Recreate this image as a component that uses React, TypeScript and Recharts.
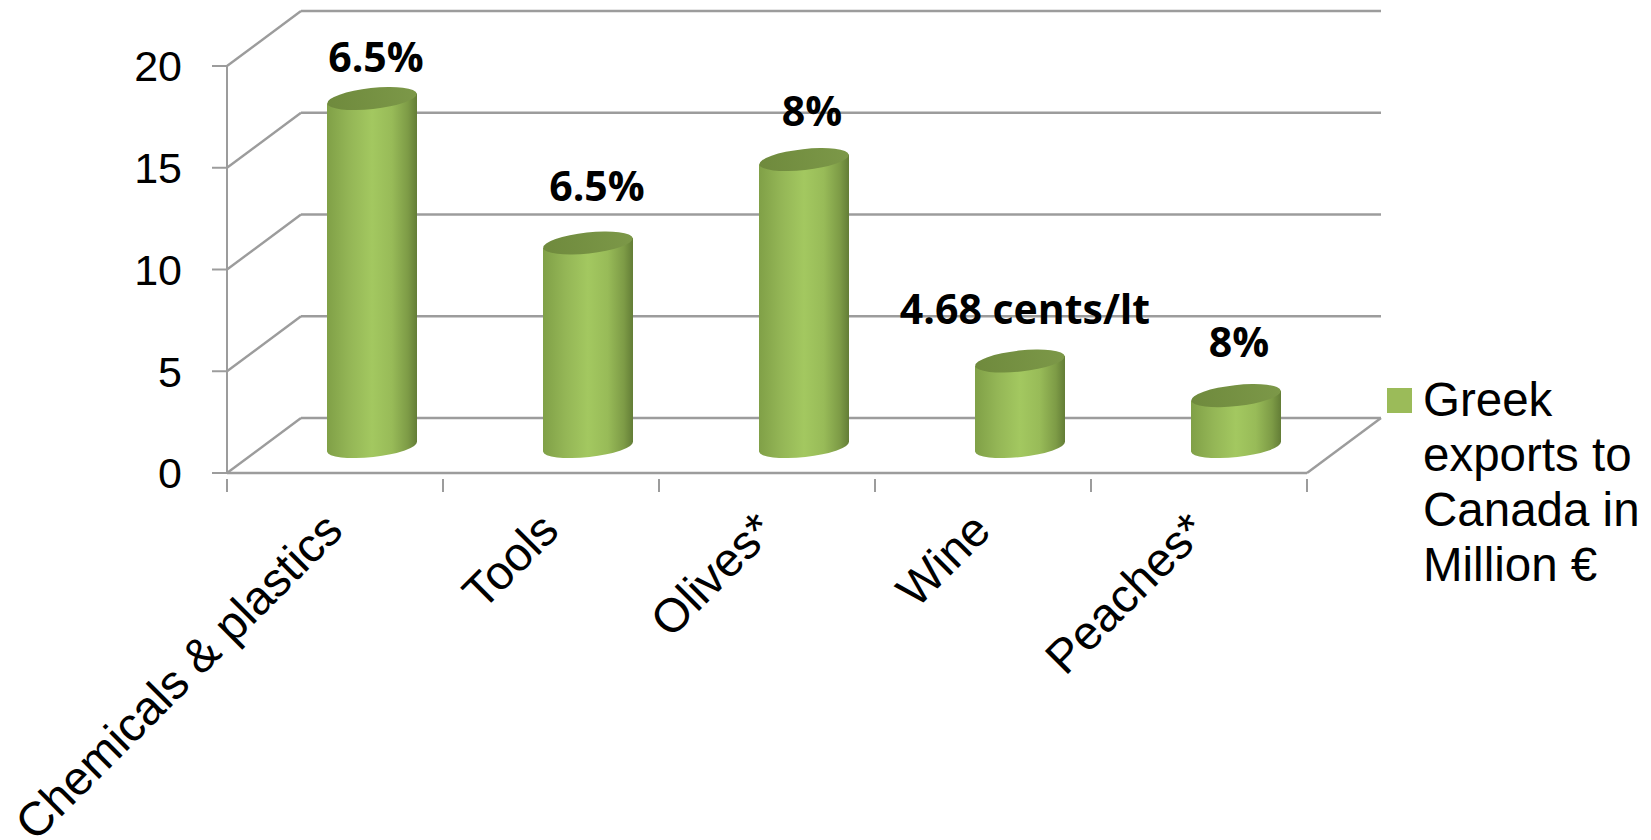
import { BarChart, Bar, XAxis, YAxis, CartesianGrid, Legend, LabelList } from 'recharts';

const categories = ['Chemicals & plastics', 'Tools', 'Olives*', 'Wine', 'Peaches*'];
const exportValues = [17.1, 10, 14.1, 4.2, 2.5];
const dutyLabels = ['6.5%', '6.5%', '8%', '4.68 cents/lt', '8%'];
const yTicks = [0, 5, 10, 15, 20];

const SERIES_NAME = 'Greek exports to Canada in Million €';
const GREEN = '#9bbb59';
const GRID = '#9c9c9c';
const FONT = '"Liberation Sans", Arial, sans-serif';

const WIDTH = 1651;
const HEIGHT = 840;
const PLOT_LEFT = 227;
const PLOT_RIGHT = 1307;
const PLOT_TOP = 66;
const PLOT_BOTTOM = 473;
const LEGEND_WIDTH = 264;
const BAND = (PLOT_RIGHT - PLOT_LEFT) / categories.length;

// fake 3d: the back wall sits up and to the right of the axes
const DEPTH_X = 74;
const DEPTH_Y = -55;

// the labels were hand placed in the original, so they do not sit evenly
const labelNudge = [
  { dx: 4, dy: -26 },
  { dx: 9, dy: -41 },
  { dx: 8, dy: -33 },
  { dx: 5, dy: -36 },
  { dx: 3, dy: -38 },
];

const data = categories.map((name, i) => ({
  name,
  value: exportValues[i],
  duty: dutyLabels[i],
}));

const GridLine = (props: any) => {
  const { x1, y1, x2 } = props;
  const onFloor = y1 >= PLOT_BOTTOM - 1;
  return (
    <g key={props.key} stroke={GRID} strokeWidth={2.4} fill="none">
      <line x1={x1} y1={y1} x2={x1 + DEPTH_X} y2={y1 + DEPTH_Y} />
      <line x1={x1 + DEPTH_X} y1={y1 + DEPTH_Y} x2={x2 + DEPTH_X} y2={y1 + DEPTH_Y} />
      {onFloor && <line x1={x2} y1={y1} x2={x2 + DEPTH_X} y2={y1 + DEPTH_Y} />}
    </g>
  );
};

const Cylinder = (props: any) => {
  const { x, y, width, height } = props;
  const left = x + DEPTH_X / 2;
  const right = left + width;
  const cx = left + width / 2;
  const top = y + DEPTH_Y / 2 + 1;
  const base = y + height + DEPTH_Y / 2 + 1;
  const rx = width / 2;
  const ry = 10.5;
  const tilt = -6.3;
  const lift = 5;
  const body = `M${left} ${top + lift} L${right} ${top - lift} L${right} ${base - lift}
    A${rx} ${ry} ${tilt} 0 1 ${left} ${base + lift} Z`;
  return (
    <g>
      <path d={body} fill="url(#cylinderBody)" />
      <ellipse
        cx={cx}
        cy={top}
        rx={rx}
        ry={ry}
        fill="url(#cylinderTop)"
        transform={`rotate(${tilt} ${cx} ${top})`}
      />
    </g>
  );
};

const DutyLabel = (props: any) => {
  const { x, y, width, value, index } = props;
  const nudge = labelNudge[index];
  return (
    <text
      x={x + DEPTH_X / 2 + width / 2 + nudge.dx}
      y={y + DEPTH_Y / 2 + nudge.dy}
      textAnchor="middle"
      fontFamily='"Open Sans", sans-serif'
      fontWeight={700}
      fontSize={41}
      fill="#000"
    >
      {value}
    </text>
  );
};

const CategoryTick = (props: any) => {
  const { x, y, payload, index } = props;
  const last = index === categories.length - 1;
  return (
    <g>
      <line x1={x - BAND / 2} y1={y - 16} x2={x - BAND / 2} y2={y - 3} stroke={GRID} strokeWidth={2} />
      {last && <line x1={x + BAND / 2} y1={y - 16} x2={x + BAND / 2} y2={y - 3} stroke={GRID} strokeWidth={2} />}
      <text
        x={x + 10}
        y={y + 38}
        textAnchor="end"
        fontFamily={FONT}
        fontSize={47.5}
        fill="#000"
        transform={`rotate(-45 ${x + 10} ${y + 38})`}
      >
        {payload.value}
      </text>
    </g>
  );
};

const LegendBox = ({ payload }: any) => (
  <div style={{ display: 'flex', fontFamily: FONT, fontSize: 47.5, lineHeight: '55px', color: '#000' }}>
    <div style={{ width: 25, height: 25, marginTop: 16, marginRight: 11, background: payload?.[0]?.color, flex: 'none' }} />
    <div style={{ width: 230 }}>{payload?.[0]?.value}</div>
  </div>
);

export default function App() {
  return (
    <div style={{ position: 'absolute', left: 0, top: 0, width: WIDTH, height: HEIGHT, background: '#fff', overflow: 'hidden' }}>
      <BarChart
        width={WIDTH}
        height={HEIGHT}
        data={data}
        barSize={90}
        margin={{ left: PLOT_LEFT - 120, right: WIDTH - PLOT_RIGHT - LEGEND_WIDTH, top: PLOT_TOP, bottom: 40 }}
      >
        <defs>
          <linearGradient id="cylinderBody" x1="0" y1="0" x2="1" y2="0">
            <stop offset="0" stopColor="#80a047" />
            <stop offset="0.25" stopColor="#94b656" />
            <stop offset="0.5" stopColor="#a3c860" />
            <stop offset="0.72" stopColor="#98bb58" />
            <stop offset="0.9" stopColor="#7d9b46" />
            <stop offset="1" stopColor="#637d36" />
          </linearGradient>
          <linearGradient id="cylinderTop" x1="0" y1="0" x2="1" y2="0">
            <stop offset="0" stopColor="#6f8a3d" />
            <stop offset="1" stopColor="#7c9848" />
          </linearGradient>
        </defs>
        <CartesianGrid vertical={false} horizontal={GridLine} />
        <XAxis
          dataKey="name"
          height={HEIGHT - PLOT_BOTTOM - 40}
          interval={0}
          tickLine={false}
          axisLine={{ stroke: GRID, strokeWidth: 2.4 }}
          tick={CategoryTick}
          tickMargin={16}
        />
        <YAxis
          width={120}
          domain={[0, 20]}
          ticks={yTicks}
          tickSize={15}
          tickMargin={30}
          axisLine={{ stroke: GRID, strokeWidth: 2 }}
          tickLine={{ stroke: GRID, strokeWidth: 2 }}
          tick={{ fontFamily: FONT, fontSize: 43, fill: '#000' }}
        />
        <Legend
          layout="vertical"
          verticalAlign="top"
          align="right"
          content={LegendBox}
          wrapperStyle={{ position: 'absolute', left: 1387, top: 372, width: LEGEND_WIDTH }}
        />
        <Bar dataKey="value" name={SERIES_NAME} fill={GREEN} shape={Cylinder} isAnimationActive={false}>
          <LabelList dataKey="duty" content={DutyLabel} />
        </Bar>
      </BarChart>
    </div>
  );
}
